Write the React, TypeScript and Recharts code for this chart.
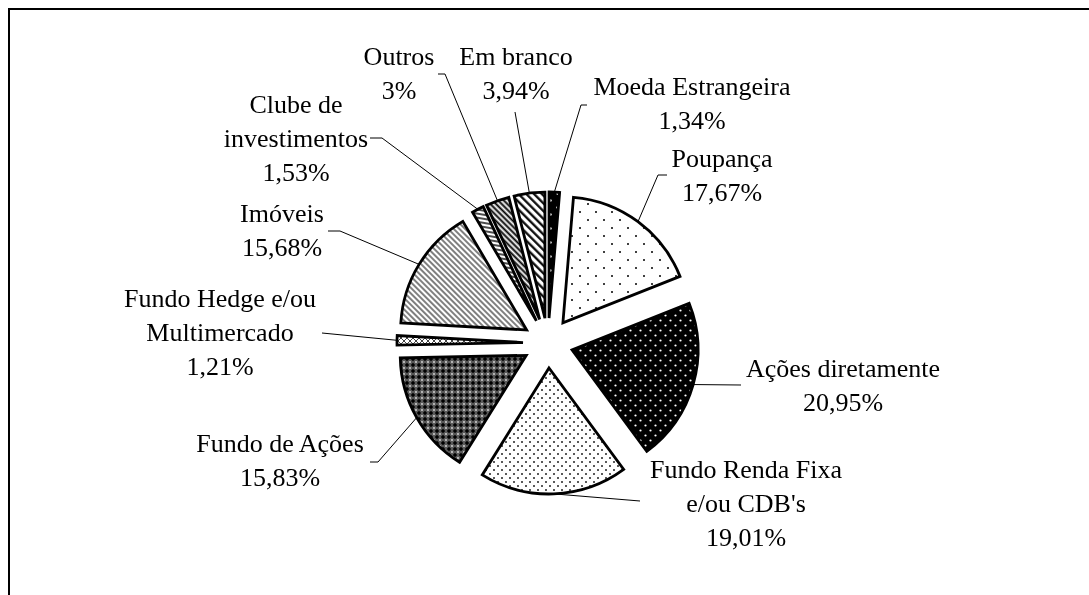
import { PieChart, Pie, Cell, Sector } from 'recharts';

// slices, clockwise from 12 o'clock
const NAMES = [
  'Moeda Estrangeira',
  'Poupança',
  'Ações diretamente',
  "Fundo Renda Fixa\ne/ou CDB's",
  'Fundo de Ações',
  'Fundo Hedge e/ou\nMultimercado',
  'Imóveis',
  'Clube de\ninvestimentos',
  'Outros',
  'Em branco',
];
const VALUES = [1.34, 17.67, 20.95, 19.01, 15.83, 1.21, 15.68, 1.53, 3, 3.94];
const PATTERNS = ['moeda', 'poup', 'acoes', 'rfixa', 'facoes', 'hedge', 'imov', 'clube', 'outros', 'branco'];

// label block (centre x, first baseline) and the leader points after the slice edge
const LABEL_LAYOUT: { x: number; y: number; leader: number[][] }[] = [
  { x: 684, y: 87, leader: [[573, 97], [579, 97]] },
  { x: 714, y: 159, leader: [[650, 167], [659, 167]] },
  { x: 835, y: 369, leader: [[733, 377]] },
  { x: 738, y: 470, leader: [[632, 493]] },
  { x: 272, y: 444, leader: [[370, 454], [362, 454]] },
  { x: 212, y: 299, leader: [[314, 325]] },
  { x: 274, y: 214, leader: [[332, 223], [320, 223]] },
  { x: 288, y: 105, leader: [[374, 130], [362, 130]] },
  { x: 391, y: 57, leader: [[437, 66], [430, 66]] },
  { x: 508, y: 57, leader: [[507, 104]] },
];

const W = 1081;
const H = 579;
const CX = 540;
const CY = 335;
const R = 126;
const EXPLODE = 25;
const LINE_H = 34;
const RADIAN = Math.PI / 180;
const FONT = '"Liberation Serif", "Times New Roman", serif';

const data = NAMES.map((name, i) => ({ name, value: VALUES[i] }));
const fmt = (v: number) => `${String(v).replace('.', ',')}%`;

const ExplodedSector = (props: any) => {
  const a = -props.midAngle * RADIAN;
  return (
    <Sector
      {...props}
      cx={props.cx + EXPLODE * Math.cos(a)}
      cy={props.cy + EXPLODE * Math.sin(a)}
    />
  );
};

const renderLabel = (props: any) => {
  const { cx, cy, midAngle, outerRadius, index } = props;
  const lay = LABEL_LAYOUT[index];
  const a = -midAngle * RADIAN;
  const sx = cx + (outerRadius + EXPLODE) * Math.cos(a);
  const sy = cy + (outerRadius + EXPLODE) * Math.sin(a);
  const pts = [[sx, sy], ...lay.leader].map((p) => p.join(',')).join(' ');
  const lines = [...NAMES[index].split('\n'), fmt(VALUES[index])];
  return (
    <g key={`lbl-${index}`}>
      <polyline points={pts} fill="none" stroke="#000" strokeWidth={1} />
      <text x={lay.x} y={lay.y} textAnchor="middle" fontFamily={FONT} fontSize={26} fill="#000">
        {lines.map((l, i) => (
          <tspan key={i} x={lay.x} dy={i === 0 ? 0 : LINE_H}>{l}</tspan>
        ))}
      </text>
    </g>
  );
};

function Patterns() {
  return (
    <svg width={0} height={0} style={{ position: 'absolute' }}>
      <defs>
        <pattern id="moeda" width={14} height={14} patternUnits="userSpaceOnUse">
          <rect width={14} height={14} fill="#000" />
          <circle cx={3.5} cy={3.5} r={1.2} fill="#fff" />
          <circle cx={10.5} cy={10.5} r={1.2} fill="#fff" />
        </pattern>
        <pattern id="poup" width={16} height={16} patternUnits="userSpaceOnUse">
          <rect width={16} height={16} fill="#fff" />
          <circle cx={4} cy={4} r={1} fill="#000" />
          <circle cx={12} cy={12} r={1} fill="#000" />
        </pattern>
        <pattern id="acoes" width={10} height={10} patternUnits="userSpaceOnUse">
          <rect width={10} height={10} fill="#000" />
          <circle cx={2.5} cy={2.5} r={1.1} fill="#fff" />
          <circle cx={7.5} cy={7.5} r={1.1} fill="#fff" />
        </pattern>
        <pattern id="rfixa" width={8} height={8} patternUnits="userSpaceOnUse">
          <rect width={8} height={8} fill="#fff" />
          <circle cx={2} cy={2} r={1} fill="#222" />
          <circle cx={6} cy={6} r={1} fill="#222" />
        </pattern>
        <pattern id="facoes" width={6} height={6} patternUnits="userSpaceOnUse">
          <rect width={6} height={6} fill="#5a5a5a" />
          <path d="M3,0.8 L5.2,3 L3,5.2 L0.8,3 Z" fill="#000" />
          <circle cx={0} cy={0} r={0.9} fill="#ddd" />
          <circle cx={6} cy={0} r={0.9} fill="#ddd" />
          <circle cx={0} cy={6} r={0.9} fill="#ddd" />
          <circle cx={6} cy={6} r={0.9} fill="#ddd" />
        </pattern>
        <pattern id="hedge" width={6} height={6} patternUnits="userSpaceOnUse">
          <rect width={6} height={6} fill="#fff" />
          <path d="M3,0 L6,3 L3,6 L0,3 Z" fill="none" stroke="#444" strokeWidth={1} />
        </pattern>
        <pattern id="imov" width={4} height={4} patternUnits="userSpaceOnUse" patternTransform="rotate(45)">
          <rect width={4} height={4} fill="#fff" />
          <line x1={0} y1={1} x2={4} y2={1} stroke="#000" strokeWidth={1} />
        </pattern>
        <pattern id="clube" width={4} height={4} patternUnits="userSpaceOnUse" patternTransform="rotate(10)">
          <rect width={4} height={4} fill="#fff" />
          <line x1={0} y1={1} x2={4} y2={1} stroke="#000" strokeWidth={1.4} />
        </pattern>
        <pattern id="outros" width={4} height={4} patternUnits="userSpaceOnUse" patternTransform="rotate(45)">
          <rect width={4} height={4} fill="#fff" />
          <line x1={0} y1={1.5} x2={4} y2={1.5} stroke="#000" strokeWidth={2} />
        </pattern>
        <pattern id="branco" width={5.5} height={5.5} patternUnits="userSpaceOnUse" patternTransform="rotate(45)">
          <rect width={5.5} height={5.5} fill="#fff" />
          <line x1={0} y1={1.5} x2={5.5} y2={1.5} stroke="#000" strokeWidth={2.2} />
        </pattern>
      </defs>
    </svg>
  );
}

export default function App() {
  return (
    <div style={{ width: W, height: H, position: 'relative', background: '#fff' }}>
      <Patterns />
      <div
        style={{
          position: 'fixed', left: 8, top: 8, width: 2000, height: 2000,
          borderTop: '2px solid #000', borderLeft: '2px solid #000', pointerEvents: 'none',
        }}
      />
      <PieChart width={W} height={H} margin={{ top: 0, right: 0, bottom: 0, left: 0 }}>
        <Pie
          data={data}
          dataKey="value"
          nameKey="name"
          cx={CX}
          cy={CY}
          outerRadius={R}
          startAngle={90}
          endAngle={-270}
          stroke="#000"
          strokeWidth={2.8}
          shape={ExplodedSector}
          label={renderLabel}
          labelLine={false}
          isAnimationActive={false}
        >
          {data.map((d, i) => (
            <Cell key={d.name} fill={`url(#${PATTERNS[i]})`} />
          ))}
        </Pie>
      </PieChart>
    </div>
  );
}
